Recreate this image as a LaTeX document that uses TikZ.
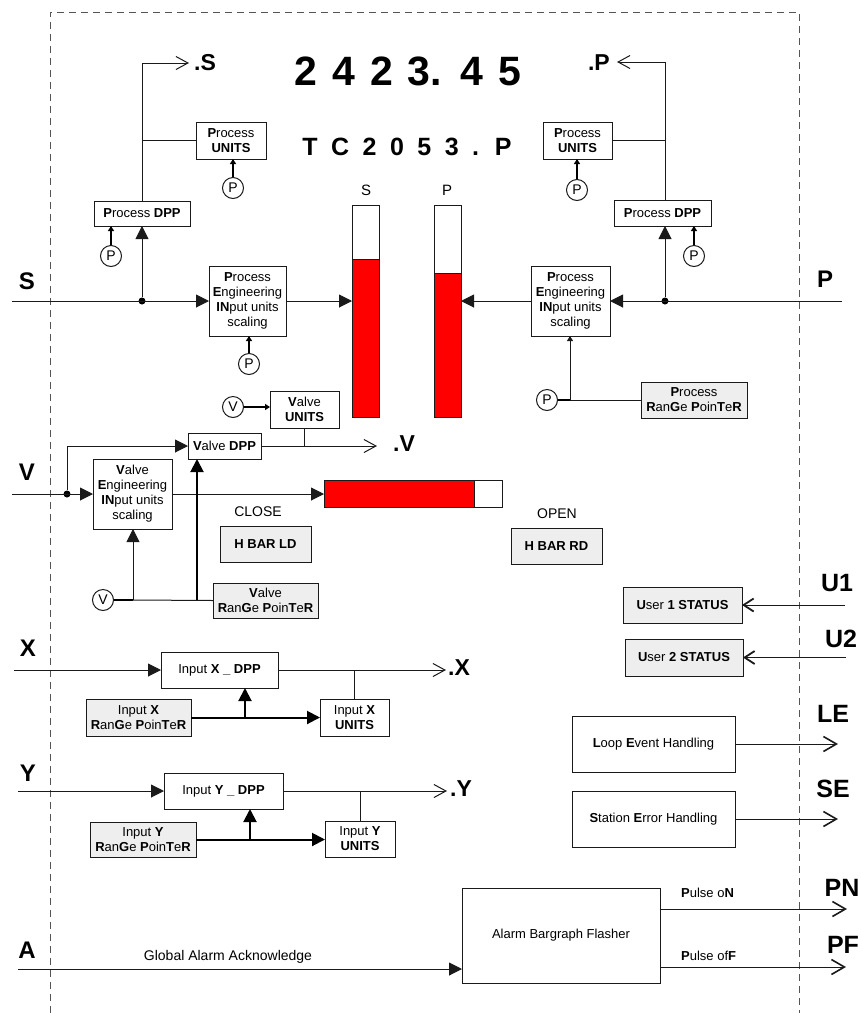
\documentclass[tikz,border=0pt]{standalone}
\usepackage{fontspec}
\setmainfont{Liberation Sans}
\usetikzlibrary{arrows.meta}
\definecolor{lc}{HTML}{1A1A1A}
\definecolor{gfill}{HTML}{EEEEEE}
\definecolor{barred}{HTML}{FF0000}
\definecolor{framec}{HTML}{555555}
\newcommand\mkbox[7]{\node[#2,minimum width={(#5)-(#3)},minimum height={(#6)-(#4)}] (#1) at ({((#3)+(#5))/2},{((#4)+(#6))/2}) {#7};}
\begin{document}
\begin{tikzpicture}[x=1pt,y=-1pt,
  ln/.style={draw=lc,line width=1pt},
  thk/.style={draw=black,line width=2pt},
  box/.style={draw=lc,line width=1pt,fill=white,align=center,inner sep=0pt,outer sep=0pt,font=\fontsize{13}{15}\selectfont},
  gbox/.style={box,fill=gfill},
  bar/.style={draw=lc,line width=1pt,fill=white,inner sep=0pt,outer sep=0pt},
  pc/.style={circle,draw=lc,line width=1pt,fill=white,minimum size=21pt,inner sep=0pt,font=\fontsize{14}{14}\selectfont},
  dot/.style={circle,fill=black,minimum size=7pt,inner sep=0pt},
  lab/.style={font=\fontsize{24}{24}\selectfont\bfseries,inner sep=0pt},
  rlab/.style={font=\fontsize{25}{25}\selectfont\bfseries,inner sep=0pt},
  dotlab/.style={font=\fontsize{23}{23}\selectfont\bfseries,inner sep=0pt},
  txt/.style={font=\fontsize{14}{16}\selectfont,inner sep=0pt},
  stxt/.style={font=\fontsize{13}{15}\selectfont,inner sep=0pt},
  bigtri/.style={-{Triangle[length=13pt,width=13pt]}},
  smalltri/.style={-{Triangle[length=5pt,width=6pt]}},
  barb/.style={-{Straight Barb[length=12pt,width=13pt,line width=1pt]}},
  ubarb/.style={-{Straight Barb[length=10pt,width=13pt,line width=1.8pt]}},
  rbarb/.style={-{Straight Barb[length=13pt,width=15pt,line width=1.6pt]}}
]
\useasboundingbox (0,0) rectangle (861,1013);
% frame
\draw[draw=framec,line width=0.9pt,dash pattern=on 7pt off 5pt] (50,1013) -- (50,12) -- (799,12) -- (799,1013);

% display texts
\node[font=\fontsize{41}{41}\selectfont\bfseries,inner sep=0pt] (num) at (408,71) {\spaceskip=15pt 2 4 2 3. 4 5};
\node[font=\fontsize{25}{25}\selectfont\bfseries,inner sep=0pt] (tag) at (407,147) {\spaceskip=13.5pt T C 2 0 5 3 . P};

% bars
\node[font=\fontsize{15}{15}\selectfont,inner sep=0pt] (sbarL) at (366,190) {S};
\node[font=\fontsize{15}{15}\selectfont,inner sep=0pt] (pbarL) at (447,190) {P};
\mkbox{sbar}{bar}{352}{205}{379}{417}{}
\mkbox{pbar}{bar}{434}{205}{461}{417}{}
\draw[ln,fill=barred] (352,259) rectangle (379,417);
\draw[ln,fill=barred] (434,273) rectangle (461,417);

% ---------- left process block
\mkbox{unitsL}{box}{196}{122}{266}{159}{\textbf{P}rocess\\\textbf{UNITS}}
\mkbox{dppL}{box}{94}{201}{190}{226}{\textbf{P}rocess \textbf{DPP}}
\mkbox{engL}{box}{209}{266}{286}{336}{\textbf{P}rocess\\\textbf{E}ngineering\\\textbf{IN}put units\\scaling}
\node[pc] (pU1) at (233,188) {P};
\node[pc] (pD1) at (111,256) {P};
\node[pc] (pE1) at (249,364) {P};
\coordinate (sin) at (12,301);
\node[dot] (sdot) at (142,301) {};
\coordinate (sTop) at (142,63);
\coordinate (sOut) at (189,63);
\node[dotlab,anchor=west] (sOutL) at (194,63) {.S};
\node[lab] (sL) at (27,281) {S};
\draw[ln,bigtri] (sin) -- (engL.west);
\draw[ln,bigtri] (sdot) -- (dppL.south);
\draw[ln,barb] (dppL.north) -- (sTop) -- (sOut);
\draw[ln] (unitsL.west) -- (unitsL.west -| sTop);
\draw[thk,smalltri] (pU1) -- (pU1 |- unitsL.south);
\draw[thk,smalltri] (pD1) -- (pD1 |- dppL.south);
\draw[thk,smalltri] (pE1) -- (pE1 |- engL.south);
\draw[ln,bigtri] (engL.east) -- (engL.east -| sbar.west);

% ---------- right process block
\mkbox{unitsR}{box}{543}{122}{612}{159}{\textbf{P}rocess\\\textbf{UNITS}}
\mkbox{dppR}{box}{614}{200}{711}{226}{\textbf{P}rocess \textbf{DPP}}
\mkbox{engR}{box}{531}{266}{610}{336}{\textbf{P}rocess\\\textbf{E}ngineering\\\textbf{IN}put units\\scaling}
\node[pc] (pU2) at (577,190) {P};
\node[pc] (pD2) at (694,256) {P};
\coordinate (pin) at (842,301);
\node[dot] (pdot) at (665,301) {};
\coordinate (pTop) at (665,62);
\coordinate (pOut) at (617,62);
\node[dotlab,anchor=east] (pOutL) at (610,63) {.P};
\node[lab] (pL) at (825,279) {P};
\draw[ln,bigtri] (pin) -- (engR.east);
\draw[ln,bigtri] (pdot) -- (pdot |- dppR.south);
\draw[ln,barb] (pdot |- dppR.north) -- (pTop) -- (pOut);
\draw[ln] (unitsR.east) -- (unitsR.east -| pTop);
\draw[thk,smalltri] (pU2) -- (pU2 |- unitsR.south);
\draw[thk,smalltri] (pD2) -- (pD2 |- dppR.south);
\draw[ln,bigtri] (engR.west) -- (engR.west -| pbar.east);
% process range pointer
\node[pc] (pR) at (547,400) {P};
\mkbox{prp}{gbox}{641}{382}{747}{418}{\textbf{P}rocess\\\textbf{R}an\textbf{G}e \textbf{P}oin\textbf{T}e\textbf{R}}
\coordinate (pj) at (570,400);
\draw[thk] (pR) -- (pj);
\draw[ln] (pj) -- (prp.west);
\draw[ln,smalltri] (pj) -- (pj |- engR.south);

% ---------- valve block
\node[pc] (vU) at (233,407) {V};
\mkbox{vunits}{box}{270}{391}{339}{428}{\textbf{V}alve\\\textbf{UNITS}}
\mkbox{vdpp}{box}{188}{433}{261}{459}{\textbf{V}alve \textbf{DPP}}
\mkbox{veng}{box}{93}{459}{172}{529}{\textbf{V}alve\\\textbf{E}ngineering\\\textbf{IN}put units\\scaling}
\draw[thk,smalltri] (vU) -- (vU -| vunits.west);
\coordinate (vOut) at (377,446);
\draw[ln,barb] (vdpp.east) -- (vOut);
\draw[ln] (vunits.south) -- (vunits.south |- vOut);
\node[dotlab,anchor=west] (vOutL) at (393,444) {.V};
\node[lab] (vL) at (27,472) {V};
\coordinate (vin) at (12,494);
\node[dot] (vdot) at (67,494) {};
\draw[ln,bigtri] (vin) -- (veng.west);
\draw[ln,bigtri] (vdot) |- (vdpp.west);
\mkbox{hbar}{bar}{324}{480}{502}{507}{}
\draw[ln,fill=barred] (324,480) rectangle (474,507);
\draw[ln,bigtri] (veng.east) -- (veng.east -| hbar.west);
\node[txt] (closeL) at (258,512) {CLOSE};
\mkbox{hld}{gbox}{220}{526}{311}{562}{\textbf{H BAR LD}}
\node[txt] (openL) at (557,514) {OPEN};
\mkbox{hrd}{gbox}{511}{528}{602}{564}{\textbf{H BAR RD}}
\node[pc] (vR) at (103,600) {V};
\mkbox{vrp}{gbox}{213}{583}{318}{618}{\textbf{V}alve\\\textbf{R}an\textbf{G}e \textbf{P}oin\textbf{T}e\textbf{R}}
\coordinate (vj1) at (133,600);
\coordinate (vj2) at (197,600);
\draw[thk] (vR) -- (vj1);
\draw[ln] (vj1) -- (vrp.west);
\draw[ln,bigtri] (vj1) -- (vj1 |- veng.south);
\draw[thk,bigtri] (vj2) -- (vj2 |- vdpp.south);

% ---------- user status
\mkbox{user1}{gbox}{623}{587}{742}{623}{\textbf{U}ser \textbf{1 STATUS}}
\mkbox{user2}{gbox}{625}{639}{743}{676}{\textbf{U}ser \textbf{2 STATUS}}
\coordinate (u1in) at (845,605);
\coordinate (u2in) at (846,657.5);
\draw[ln,ubarb] (u1in) -- (user1.east);
\draw[ln,ubarb] (u2in) -- (user2.east);
\node[rlab] (u1L) at (837,583) {U1};
\node[rlab] (u2L) at (841,639) {U2};

% ---------- X block
\node[lab] (xL) at (28,648) {X};
\coordinate (xin) at (14,670);
\mkbox{xdpp}{box}{161}{652}{278}{688}{Input \textbf{X \_ DPP}}
\mkbox{xunits}{box}{320}{699}{389}{736}{Input \textbf{X}\\\textbf{UNITS}}
\mkbox{xrp}{gbox}{86}{699}{191}{736}{Input \textbf{X}\\\textbf{R}an\textbf{G}e \textbf{P}oin\textbf{T}e\textbf{R}}
\coordinate (xOut) at (446,670);
\node[dotlab,anchor=west] (xOutL) at (448,668) {.X};
\draw[ln,bigtri] (xin) -- (xdpp.west);
\draw[ln,barb] (xdpp.east) -- (xOut);
\draw[ln] (xunits.north) -- (xunits.north |- xOut);
\coordinate (xj) at (245,717.5);
\draw[thk,bigtri] (xrp.east) -- (xunits.west);
\draw[thk,bigtri] (xj) -- (xj |- xdpp.south);

% ---------- Y block
\node[lab] (yL) at (28,773) {Y};
\coordinate (yin) at (18,791);
\mkbox{ydpp}{box}{164}{773}{283}{809}{Input \textbf{Y \_ DPP}}
\mkbox{yunits}{box}{325}{821}{395}{857}{Input \textbf{Y}\\\textbf{UNITS}}
\mkbox{yrp}{gbox}{90}{822}{196}{857}{Input \textbf{Y}\\\textbf{R}an\textbf{G}e \textbf{P}oin\textbf{T}e\textbf{R}}
\coordinate (yOut) at (447,791);
\node[dotlab,anchor=west] (yOutL) at (450,789) {.Y};
\draw[ln,bigtri] (yin) -- (ydpp.west);
\draw[ln,barb] (ydpp.east) -- (yOut);
\draw[ln] (yunits.north) -- (yunits.north |- yOut);
\coordinate (yj) at (250,839.5);
\draw[thk,bigtri] (yrp.east) -- (yrp.east -| yunits.west);
\draw[thk,bigtri] (yj) -- (yj |- ydpp.south);

% ---------- event handling
\mkbox{loop}{box}{572}{716}{735}{772}{\textbf{L}oop \textbf{E}vent Handling}
\mkbox{station}{box}{572}{791}{735}{847}{\textbf{S}tation \textbf{E}rror Handling}
\coordinate (leOut) at (838,744);
\coordinate (seOut) at (838,819);
\draw[ln,rbarb] (loop.east) -- (leOut);
\draw[ln,rbarb] (station.east) -- (seOut);
\node[rlab] (leL) at (833,714) {LE};
\node[rlab] (seL) at (833,789) {SE};

% ---------- alarm
\node[lab] (aL) at (27,950) {A};
\coordinate (ain) at (18,969);
\mkbox{alarm}{box}{462}{888}{660}{983}{Alarm Bargraph Flasher}
\draw[ln,bigtri] (ain) -- (ain -| alarm.west);
\node[txt] (gaa) at (228,957) {Global Alarm Acknowledge};
\coordinate (pnOut) at (847,909);
\coordinate (pfOut) at (846,967);
\draw[ln,rbarb] (pnOut -| alarm.east) -- (pnOut);
\draw[ln,rbarb] (pfOut -| alarm.east) -- (pfOut);
\node[stxt,anchor=west] (pnT) at (681,893) {\textbf{P}ulse o\textbf{N}};
\node[stxt,anchor=west] (pfT) at (681,956) {\textbf{P}ulse of\textbf{F}};
\node[rlab] (pnL) at (842,888) {PN};
\node[rlab] (pfL) at (843,945) {PF};
\end{tikzpicture}
\end{document}
